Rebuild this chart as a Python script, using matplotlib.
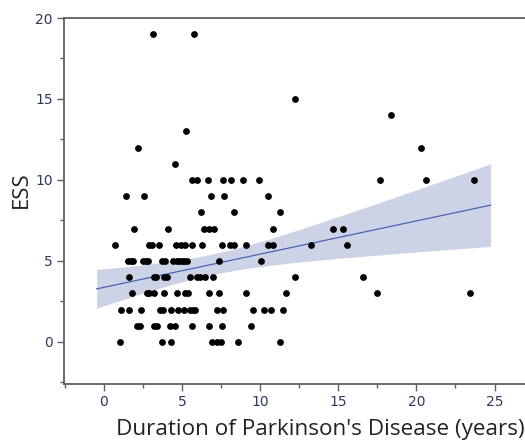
import numpy as np
import matplotlib
matplotlib.use("Agg")
from matplotlib import pyplot as plt
from matplotlib.ticker import MultipleLocator

# ESS score per row, with disease durations (years)
ess_rows = [19, 15, 14, 13, 12, 11, 10, 9, 8, 7, 6, 5, 4, 3, 2, 1, 0]
duration_rows = [
    [3.16, 5.73],
    [12.24],
    [18.4],
    [5.23],
    [2.2, 20.3],
    [4.55],
    [5.64, 5.94, 6.67, 7.63, 8.14, 8.91, 9.94, 17.69, 20.6, 23.67],
    [1.41, 2.58, 6.84, 7.71, 10.49],
    [6.24, 8.35, 11.24],
    [1.9, 4.12, 6.41, 6.71, 7.03, 10.85, 14.68, 15.32],
    [0.73, 2.86, 3.06, 3.53, 4.62, 4.91, 5.21, 5.66, 6.28, 7.56, 8.08, 8.31,
     9.08, 10.49, 10.85, 13.27, 15.58],
    [1.56, 1.71, 1.84, 2.52, 2.69, 2.84, 3.74, 3.91, 4.42, 4.66, 4.83, 4.98,
     5.13, 5.3, 7.37, 10.06],
    [1.6, 3.2, 3.33, 3.87, 4.02, 5.53, 5.94, 6.15, 6.45, 6.97, 12.24, 16.6],
    [1.81, 2.78, 2.9, 3.2, 3.85, 4.7, 5.19, 5.38, 6.7, 7.37, 9.08, 11.67,
     17.5, 23.4],
    [1.09, 1.62, 2.39, 3.59, 3.8, 4.29, 4.76, 5.13, 5.51, 5.68, 5.85, 7.22,
     7.65, 9.53, 10.26, 10.69, 11.49],
    [2.14, 2.31, 3.2, 3.42, 4.23, 4.55, 5.66, 6.69, 7.56, 9.42],
    [1.03, 3.74, 4.29, 6.94, 7.22, 7.48, 8.55, 11.24],
]

# fitted line as drawn in the chart (some dots overlap, so read it directly)
fit_intercept = 3.37
fit_slope = 0.205
fit_range = (-0.47, 24.75)

duration = np.concatenate([np.array(r, dtype=float) for r in duration_rows])
ess = np.concatenate([np.full(len(r), e, dtype=float)
                      for r, e in zip(duration_rows, ess_rows)])

# 95% confidence band for the mean around the fitted line
n = len(duration)
resid = ess - (fit_intercept + fit_slope * duration)
s_err = np.sqrt(np.sum(resid ** 2) / (n - 2))
xm = duration.mean()
sxx = np.sum((duration - xm) ** 2)
xfit = np.linspace(fit_range[0], fit_range[1], 200)
yfit = fit_intercept + fit_slope * xfit
half = 1.976 * s_err * np.sqrt(1.0 / n + (xfit - xm) ** 2 / sxx)

fig = plt.figure(figsize=(5.25, 4.41), dpi=100)
ax = fig.add_axes([64 / 525, 57 / 441, 461 / 525, 366 / 441])

ax.fill_between(xfit, yfit - half, yfit + half, color="#cdd3e7", lw=0, zorder=1)
ax.plot(xfit, yfit, color="#4a62b5", lw=0.9, zorder=2)
ax.scatter(duration, ess, s=24, color="black", lw=0, zorder=3)

ax.set_xlim(-2.56, 26.95)
ax.set_ylim(-2.6, 20)

ax.xaxis.set_major_locator(MultipleLocator(5))
ax.xaxis.set_minor_locator(MultipleLocator(2.5))
ax.yaxis.set_major_locator(MultipleLocator(5))
ax.yaxis.set_minor_locator(MultipleLocator(2.5))

for side in ["left", "bottom", "top"]:
    ax.spines[side].set_color("#606060")
    ax.spines[side].set_linewidth(1.3)
ax.spines["right"].set_visible(False)

ax.tick_params(which="major", length=5, width=1, color="#606060",
               labelcolor="#2e3a5a", labelsize=10, pad=3)
ax.tick_params(which="minor", length=3, width=1, color="#606060")
ax.tick_params(axis="x", which="both", top=False)

ax.set_xlabel("Duration of Parkinson's Disease (years)", fontsize=16.2,
              family="Open Sans", color="#222222", labelpad=7, loc="right")
ax.set_ylabel("ESS", fontsize=16, family="Open Sans", color="#222222")
ax.yaxis.set_label_coords(-0.07, 0.53)

fig.savefig("out.png", dpi=100)
